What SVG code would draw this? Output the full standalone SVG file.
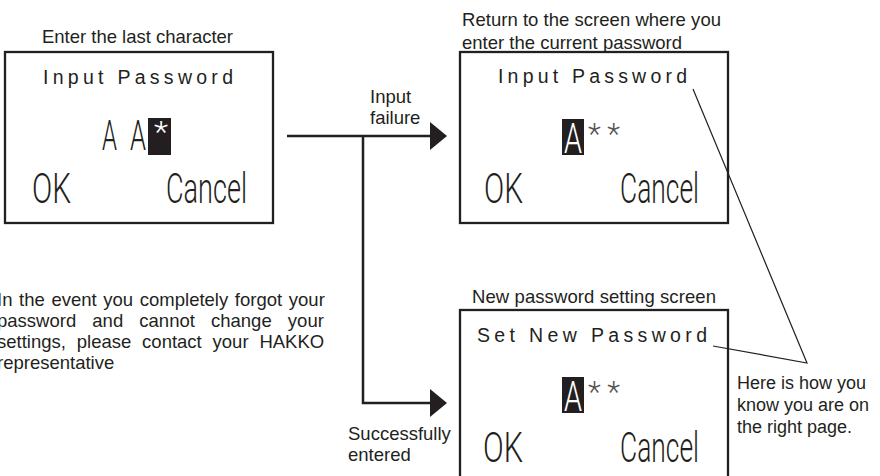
<svg xmlns="http://www.w3.org/2000/svg" width="880" height="476" viewBox="0 0 880 476">
  <style>
    .lbl { font-family: "Liberation Sans", Arial, sans-serif; font-size: 18.5px; fill: #231f20; }
    .ttl { font-family: "Liberation Sans", Arial, sans-serif; font-size: 19.5px; fill: #231f20; }
    .big { font-family: Roboto, "Liberation Sans", sans-serif; font-weight: 300; font-size: 42px; fill: #231f20; }
    .ast { font-family: Roboto, "Liberation Sans", sans-serif; font-weight: 300; font-size: 30px; fill: #555; }
    .inv { fill: #fff; }
    .box { fill: none; stroke: #231f20; stroke-width: 2.3; }
    .conn { fill: none; stroke: #231f20; stroke-width: 2.5; }
    .ptr { fill: none; stroke: #231f20; stroke-width: 1.2; }
    .head { fill: #231f20; }
  </style>
  <rect width="880" height="476" fill="#fff"/>

  <g id="screen-enter-last">
    <text class="lbl" x="42" y="43" textLength="191">Enter the last character</text>
    <rect class="box" x="5" y="52" width="268" height="171"/>
    <text class="ttl" x="43" y="84" textLength="190" lengthAdjust="spacing">Input Password</text>
    <text class="big" x="102" y="150" textLength="15" lengthAdjust="spacingAndGlyphs">A</text>
    <text class="big" x="130" y="150" textLength="16" lengthAdjust="spacingAndGlyphs">A</text>
    <rect x="148" y="118" width="23" height="37" fill="#231f20"/>
    <text class="ast inv" x="154" y="142" textLength="14" lengthAdjust="spacingAndGlyphs">*</text>
    <text class="big" x="32" y="203" textLength="39" lengthAdjust="spacingAndGlyphs">OK</text>
    <text class="big" x="166" y="203" textLength="81" lengthAdjust="spacingAndGlyphs">Cancel</text>
  </g>

  <g id="screen-return">
    <text class="lbl" x="462" y="26" textLength="259">Return to the screen where you</text>
    <text class="lbl" x="462" y="49">enter the current password</text>
    <rect class="box" x="460" y="52" width="268" height="171"/>
    <text class="ttl" x="498" y="83" textLength="189" lengthAdjust="spacing">Input Password</text>
    <rect x="562" y="119" width="22" height="36" fill="#231f20"/>
    <text class="big inv" x="564" y="153" textLength="18" lengthAdjust="spacingAndGlyphs">A</text>
    <text class="ast" x="588" y="144" textLength="32" lengthAdjust="spacing">**</text>
    <text class="big" x="484" y="203" textLength="39" lengthAdjust="spacingAndGlyphs">OK</text>
    <text class="big" x="620" y="203" textLength="79" lengthAdjust="spacingAndGlyphs">Cancel</text>
  </g>

  <g id="screen-new-password">
    <text class="lbl" x="472" y="303" textLength="244">New password setting screen</text>
    <rect class="box" x="460" y="310" width="268" height="180"/>
    <text class="ttl" x="477" y="342" textLength="230" lengthAdjust="spacing">Set New Password</text>
    <rect x="562" y="377" width="22" height="36" fill="#231f20"/>
    <text class="big inv" x="564" y="411" textLength="18" lengthAdjust="spacingAndGlyphs">A</text>
    <text class="ast" x="588" y="402" textLength="32" lengthAdjust="spacing">**</text>
    <text class="big" x="483" y="462" textLength="40" lengthAdjust="spacingAndGlyphs">OK</text>
    <text class="big" x="620" y="462" textLength="79" lengthAdjust="spacingAndGlyphs">Cancel</text>
  </g>

  <g id="note-forgot">
    <text class="lbl" x="-3" y="306" word-spacing="1.5">In the event you completely forgot your</text>
    <text class="lbl" x="-3" y="327" word-spacing="11">password and cannot change your</text>
    <text class="lbl" x="-3" y="348" word-spacing="5.7">settings, please contact your HAKKO</text>
    <text class="lbl" x="-3" y="369">representative</text>
  </g>

  <g id="note-right-page">
    <text class="lbl" x="737" y="389" style="font-size:18px">Here is how you</text>
    <text class="lbl" x="737" y="411" style="font-size:18px">know you are on</text>
    <text class="lbl" x="737" y="433" style="font-size:18px">the right page.</text>
  </g>

  <g id="connectors">
    <path class="conn" d="M287 136 H432"/>
    <polygon class="head" points="430,122 447,136 430,150"/>
    <path class="conn" d="M363 136 V403 H432"/>
    <polygon class="head" points="430,389 447,403 430,417"/>
    <text class="lbl" x="370" y="103">Input</text>
    <text class="lbl" x="370" y="124">failure</text>
    <text class="lbl" x="348" y="440">Successfully</text>
    <text class="lbl" x="348" y="461">entered</text>
    <path class="ptr" d="M693 89 L807 363 L713 346"/>
  </g>
</svg>
